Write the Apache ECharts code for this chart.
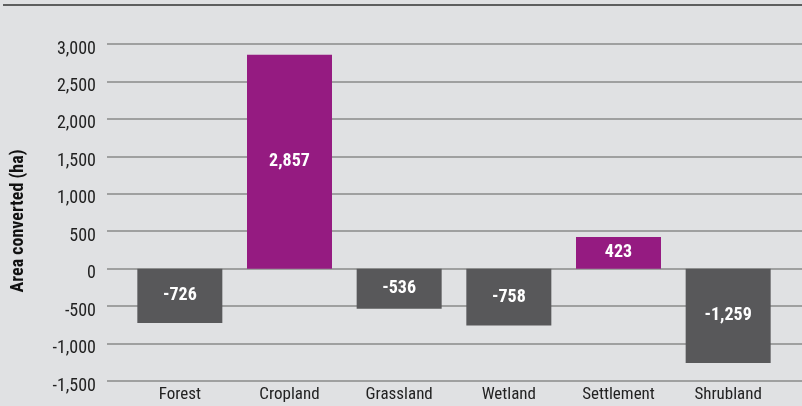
<!DOCTYPE html>
<html>
<head>
<meta charset="utf-8">
<script src="https://cdn.jsdelivr.net/npm/echarts@6/dist/echarts.min.js"></script>
<style>
  html, body { margin: 0; padding: 0; background: #e0e1e3; }
  #chart { width: 802px; height: 406px; }
</style>
</head>
<body>
<div id="chart"></div>
<script>
const categories = ['Forest', 'Cropland', 'Grassland', 'Wetland', 'Settlement', 'Shrubland']
const values = [-726, 2857, -536, -758, 423, -1259]
const yMin = -1500
const yMax = 3000
const yStep = 500

const font = '"Roboto Condensed", "Liberation Sans Narrow", "DejaVu Sans Condensed", sans-serif'
const fmt = v => v.toLocaleString('en-US')

const chart = echarts.init(document.getElementById('chart'))

chart.setOption({
  backgroundColor: '#e0e1e3',
  animation: false,
  textStyle: { fontFamily: font },
  grid: [
    { left: 107, right: 0, top: 44, bottom: 25 },
    { left: 125, right: 19, top: 44, bottom: 25 }
  ],
  xAxis: [
    { gridIndex: 0, type: 'category', data: categories, show: false },
    {
      gridIndex: 1,
      type: 'category',
      data: categories,
      position: 'bottom',
      axisLine: { show: false },
      axisTick: { show: false },
      axisLabel: { color: '#222', fontSize: 17, margin: 5, fontFamily: font }
    }
  ],
  yAxis: [
    {
      gridIndex: 0,
      type: 'value',
      min: yMin,
      max: yMax,
      interval: yStep,
      axisLine: { show: false },
      axisTick: { show: false },
      // labels sit a little below their gridline in the original
      axisLabel: {
        color: '#222', fontSize: 18, margin: 11,
        verticalAlign: 'top', lineHeight: 10,
        formatter: fmt, fontFamily: font
      },
      splitLine: { lineStyle: { color: '#8a8a8a', width: 1.5 } }
    },
    {
      gridIndex: 1,
      type: 'value',
      min: yMin,
      max: yMax,
      interval: yStep,
      show: false,
      splitLine: { show: false }
    }
  ],
  graphic: [
    {
      type: 'line',
      shape: { x1: 3, y1: 5, x2: 802, y2: 5 },
      style: { stroke: '#333', lineWidth: 1.5 }
    },
    {
      type: 'text',
      x: 18,
      y: 221,
      rotation: Math.PI / 2,
      style: {
        text: 'Area converted (ha)',
        fill: '#111',
        font: 'bold 18px ' + font,
        align: 'center',
        verticalAlign: 'middle'
      }
    }
  ],
  series: [
    {
      type: 'bar',
      xAxisIndex: 1,
      yAxisIndex: 1,
      barWidth: 85,
      data: values.map(v => ({
        value: v,
        itemStyle: { color: v >= 0 ? '#951b81' : '#58585a' }
      })),
      label: {
        show: true,
        position: 'inside',
        color: '#fff',
        fontSize: 18,
        fontWeight: 'bold',
        fontFamily: font,
        formatter: p => fmt(p.value)
      }
    }
  ]
})
</script>
</body>
</html>
